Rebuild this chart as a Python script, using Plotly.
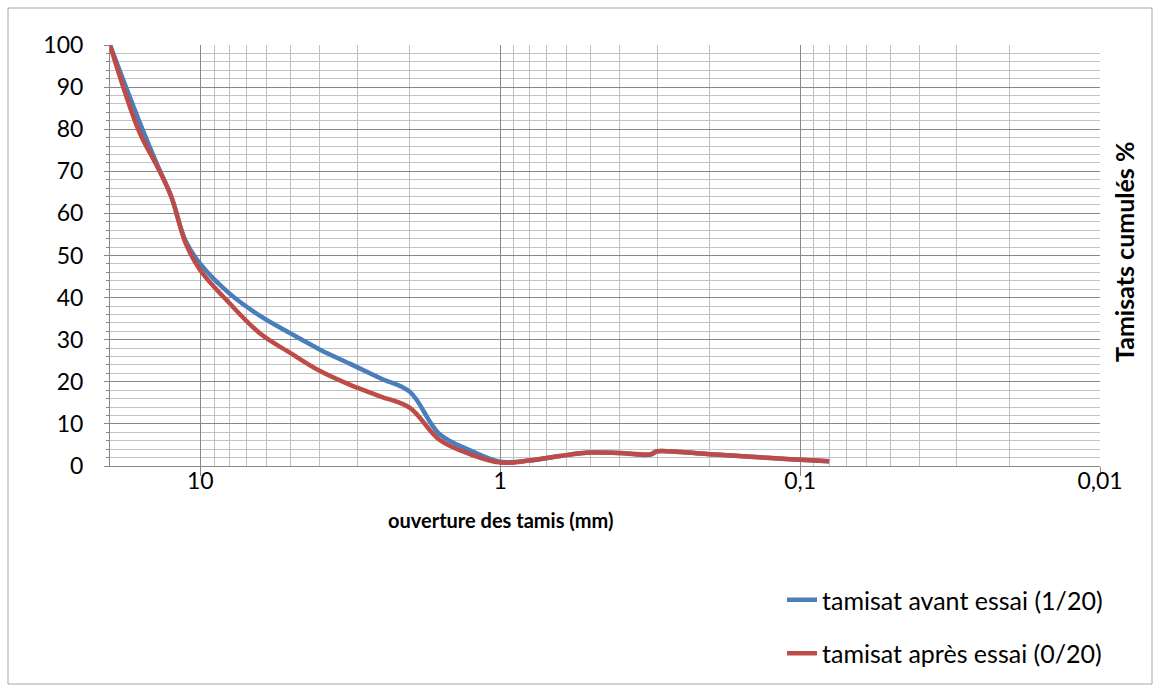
import plotly.graph_objects as go

# Sieve openings (mm)
sieves_avant = [20, 16, 14, 12.5, 11.2, 10, 8, 6.3, 5, 4, 3.15, 2.5, 2, 1.6, 1.25, 1,
                0.8, 0.63, 0.5, 0.4, 0.315, 0.3, 0.25, 0.2, 0.16, 0.125, 0.1, 0.08]
tamisat_avant = [100, 82, 72, 64, 53.5, 48, 41, 35.6, 31.5, 27.7, 24.2, 20.8, 17.6, 7.7, 3.6, 1.0,
                 1.3, 2.4, 3.2, 3.1, 2.7, 3.5, 3.3, 2.8, 2.4, 1.9, 1.5, 1.1]

sieves_apres = [20, 16, 14, 12.5, 11.2, 10, 8, 6.3, 5, 4, 3.15, 2.5, 2, 1.6, 1.25, 1,
                0.8, 0.63, 0.5, 0.4, 0.315, 0.3, 0.25, 0.2, 0.16, 0.125, 0.1, 0.08]
tamisat_apres = [100, 79.5, 71.5, 64, 53, 46.5, 38.7, 31.4, 26.8, 22.6, 19.2, 16.5, 13.8, 6.3, 2.7, 0.8,
                 1.3, 2.4, 3.2, 3.1, 2.8, 3.5, 3.3, 2.8, 2.4, 1.9, 1.5, 1.1]

x_tick_vals = [10, 1, 0.1, 0.01]
x_tick_text = ["10", "1", "0,1", "0,01"]
x_minor_vals = [m * 10.0 ** k for k in (-2, -1, 0) for m in range(2, 10)]

FONT = "Lato, Calibri, Carlito, 'Open Sans', sans-serif"
MAJOR = "#878787"
MINOR = "#c3c3c3"

fig = go.Figure()
fig.add_trace(go.Scatter(
    x=sieves_avant, y=tamisat_avant, mode="lines", name="tamisat avant essai (1/20)",
    line=dict(color="#4a7ebb", width=4.5, shape="spline", smoothing=1.0),
    legendgroup="a",
))
fig.add_trace(go.Scatter(
    x=sieves_apres, y=tamisat_apres, mode="lines", name="tamisat après essai (0/20)",
    line=dict(color="#be4b48", width=4.5, shape="spline", smoothing=1.0),
    legendgroup="b",
))

fig.update_layout(
    width=1161, height=693,
    margin=dict(l=110, r=61, t=45, b=227),
    paper_bgcolor="white", plot_bgcolor="white",
    font=dict(family=FONT, size=23, color="#000000"),
    showlegend=True,
    legend=dict(
        x=(782 - 110) / 990, y=(466 - 577) / 421, xanchor="left", yanchor="top",
        font=dict(size=25, family=FONT), tracegroupgap=18, bgcolor="rgba(0,0,0,0)",
    ),
    xaxis=dict(
        type="log", range=[1.30103, -2],
        tickmode="array", tickvals=x_tick_vals, ticktext=x_tick_text,
        showgrid=True, gridcolor=MAJOR, gridwidth=1,
        minor=dict(tickmode="array", tickvals=x_minor_vals, showgrid=True,
                   gridcolor=MINOR, gridwidth=1, ticks=""),
        showline=True, linecolor=MAJOR, linewidth=1,
        ticks="outside", ticklen=9, tickcolor=MAJOR,
        ticklabelstandoff=-15,
        tickfont=dict(size=23), zeroline=False,
    ),
    yaxis=dict(
        range=[0, 100], dtick=10, tick0=0,
        showgrid=True, gridcolor=MAJOR, gridwidth=1,
        minor=dict(dtick=2, showgrid=True, gridcolor=MINOR, gridwidth=1,
                   ticks="outside", ticklen=3, tickcolor=MAJOR),
        showline=True, linecolor=MAJOR, linewidth=1,
        ticks="outside", ticklen=5, tickcolor=MAJOR,
        ticklabelstandoff=16,
        tickfont=dict(size=23), zeroline=False,
    ),
    annotations=[
        dict(text="<b>ouverture des tamis (mm)</b>", xref="paper", yref="paper",
             x=(500 - 110) / 990, y=(466 - 520) / 421, xanchor="center", yanchor="middle",
             showarrow=False, font=dict(size=20, family=FONT)),
        dict(text="<b>Tamisats cumulés %</b>", xref="paper", yref="paper",
             x=(1124 - 110) / 990, y=(466 - 252) / 421, xanchor="center", yanchor="middle",
             textangle=-90, showarrow=False, font=dict(size=25, family=FONT)),
    ],
    shapes=[
        dict(type="rect", xref="paper", yref="paper",
             x0=(8 - 110) / 990, x1=(1152 - 110) / 990,
             y0=(466 - 684) / 421, y1=(466 - 8) / 421,
             line=dict(color="#a6a6a6", width=1), fillcolor="rgba(0,0,0,0)", layer="below"),
    ],
)

fig.write_html("out.html", config={"displayModeBar": False},
               post_script="document.body.style.margin='0';document.body.style.padding='0';")
